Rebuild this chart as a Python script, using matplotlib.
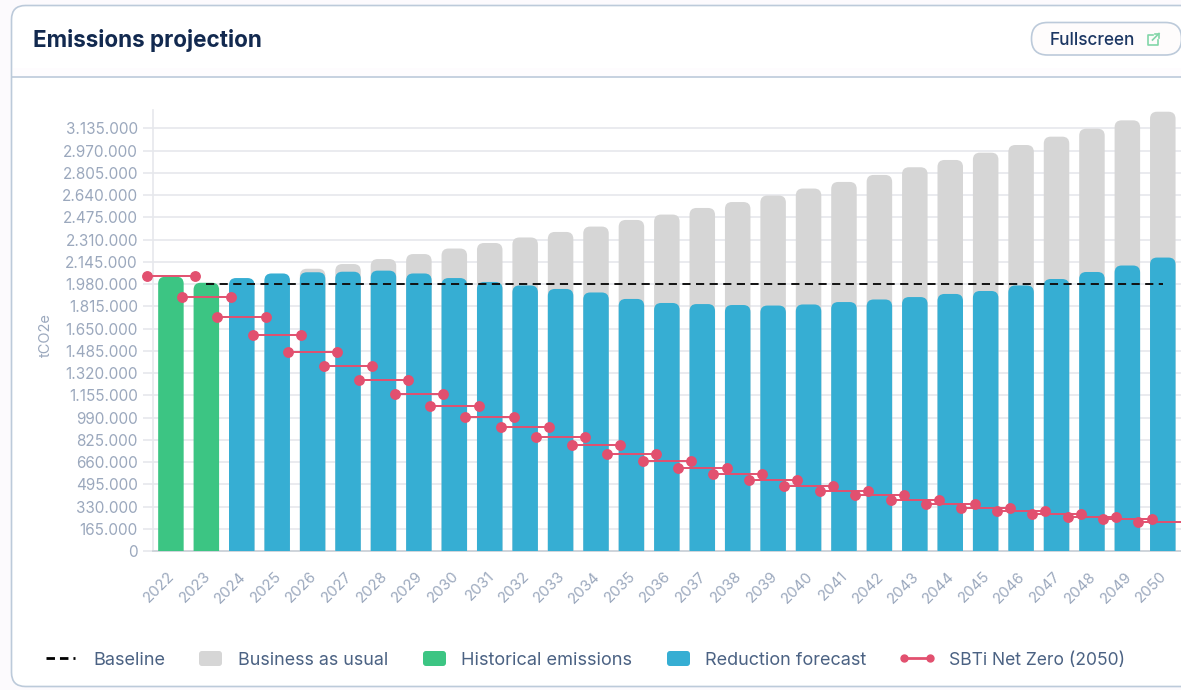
import matplotlib
matplotlib.use('Agg')
import matplotlib.pyplot as plt
from matplotlib.patches import FancyBboxPatch, PathPatch
from matplotlib.path import Path
from matplotlib.transforms import Affine2D

plt.rcParams['font.family'] = ['Inter', 'DejaVu Sans']

years = list(range(2022, 2051))

historical = [2035000, 1990000]

forecast = [2025000, 2059000, 2068000, 2072000, 2080000, 2059000, 2025000,
            1996000, 1970000, 1944000, 1918000, 1870000, 1840000, 1832000,
            1825000, 1821000, 1829000, 1847000, 1866000, 1884000, 1907000,
            1929000, 1970000, 2018000, 2070000, 2118000, 2177000]

# 2024 and 2025 sit behind the blue bars, so those two are a guess
business_as_usual = [2010000, 2050000, 2094000, 2129000, 2166000, 2203000,
                     2244000, 2285000, 2326000, 2367000, 2407000, 2456000,
                     2496000, 2545000, 2589000, 2637000, 2689000, 2738000,
                     2790000, 2847000, 2901000, 2955000, 3012000, 3074000,
                     3133000, 3195000, 3259000]

sbti = [2038000, 1882000, 1736000, 1605000, 1480000, 1369000, 1265000,
        1168000, 1079000, 994000, 920000, 846000, 783000, 722000, 668000,
        616000, 569000, 525000, 484000, 447000, 415000, 381000, 351000,
        321000, 297000, 275000, 254000, 235000, 217000]

baseline = [1980000] * 28

y_ticks = [165000 * i for i in range(20)]
y_labels = ['0'] + [f'{t:,}'.replace(',', '.') for t in y_ticks[1:]]

W, H = 1181, 690
NAVY = '#12294f'
TICK = '#9ba8bd'
LEGEND_TEXT = '#4b6283'
BORDER = '#bccada'
GREEN = '#3cc583'
BLUE = '#36aed3'
GREY = '#d6d6d6'
RED = '#e2506f'


def rounded_bar(ax, x, height, color, width=0.72, r=7):
    # corner radius given in pixels, converted to data units on both axes
    rx = r / X_PX
    ry = r / Y_PX
    l, t, rgt = x - width / 2, height, x + width / 2
    verts = [(l, 0), (l, t - ry), (l, t), (l + rx, t), (rgt - rx, t),
             (rgt, t), (rgt, t - ry), (rgt, 0), (l, 0)]
    codes = [Path.MOVETO, Path.LINETO, Path.CURVE3, Path.CURVE3, Path.LINETO,
             Path.CURVE3, Path.CURVE3, Path.LINETO, Path.CLOSEPOLY]
    ax.add_patch(PathPatch(Path(verts, codes), facecolor=color, edgecolor='none', zorder=3))


fig = plt.figure(figsize=(W / 100, H / 100), dpi=100, facecolor='#fcfafd')

# page layer in pixel coordinates: card, header, legend
bg = fig.add_axes([0, 0, 1, 1], zorder=0)
bg.set_xlim(0, W)
bg.set_ylim(H, 0)
bg.axis('off')

bg.add_patch(FancyBboxPatch((11.5, 5.5), 1300, 681, boxstyle='round,pad=0,rounding_size=14',
                            facecolor='white', edgecolor=BORDER, lw=1.2))
bg.fill_between([12.5, W], 68, 76.5, color='#fefcfe', lw=0)
bg.plot([11.5, W], [77, 77], color=BORDER, lw=1.2)
bg.text(33, 41, 'Emissions projection', fontsize=16.2, fontweight='bold', color=NAVY, va='center')

bg.add_patch(FancyBboxPatch((1031.5, 22.5), 150, 32.5, boxstyle='round,pad=0,rounding_size=16',
                            facecolor='#fefcfc', edgecolor=BORDER, lw=1.2))
bg.text(1050, 40.5, 'Fullscreen', fontsize=12.4, fontweight='medium', color='#1c3763', va='center')
icon = '#82d6a8'
bg.plot([1153, 1148, 1148, 1158, 1158], [34.5, 34.5, 44.5, 44.5, 39.5], color=icon, lw=1.2)
bg.plot([1152.5, 1159], [40, 33.5], color=icon, lw=1.2)
bg.plot([1155, 1159, 1159], [33.5, 33.5, 37.5], color=icon, lw=1.2)

LEG_Y = 658
bg.plot([46, 75], [LEG_Y, LEG_Y], color='black', lw=2, dashes=(3.05, 1.8))
bg.plot([903.5, 930], [LEG_Y, LEG_Y], color=RED, lw=2, marker='o', ms=5)
for x0, color in [(199, GREY), (423, GREEN), (667, BLUE)]:
    bg.add_patch(FancyBboxPatch((x0, 651), 23, 15, boxstyle='round,pad=0,rounding_size=3',
                                facecolor=color, edgecolor='none'))
for x0, label, size in [(93, 'Baseline', 13), (238, 'Business as usual', 12.9),
                        (461, 'Historical emissions', 13.1), (705, 'Reduction forecast', 13),
                        (949, 'SBTi Net Zero (2050)', 12.6)]:
    bg.text(x0, LEG_Y + 2.5, label, fontsize=size, color=LEGEND_TEXT, va='center')

# chart layer
left, right, top, bottom = 153.2, 1180.5, 110, 551
ax = fig.add_axes([left / W, 1 - bottom / H, (right - left) / W, (bottom - top) / H], zorder=1)
ax.patch.set_alpha(0)
ax.set_xlim(-0.5, 28.5)
ax.set_ylim(0, 441 * 165000 / 22.24)
X_PX = (right - left) / 29
Y_PX = 22.24 / 165000

for i, v in enumerate(business_as_usual):
    rounded_bar(ax, i + 2, v, GREY)
for i, v in enumerate(historical):
    rounded_bar(ax, i, v, GREEN)
for i, v in enumerate(forecast):
    rounded_bar(ax, i + 2, v, BLUE)

ax.plot(range(1, 29), baseline, color='#111111', lw=1.4, dashes=(4.2, 2.8), zorder=4)

for i, v in enumerate(sbti):
    ax.plot([i - 0.686, i + 0.686], [v, v], color=RED, lw=1.4, marker='o', ms=6.8,
            clip_on=False, zorder=5)

ax.set_yticks(y_ticks)
ax.set_yticklabels(y_labels)
ax.set_xticks(range(len(years)))
ax.set_xticklabels(years, rotation=45, ha='right', rotation_mode='anchor')
ax.tick_params(axis='y', length=7, width=1.2, color='#e6e8ec', labelsize=11, labelcolor=TICK, pad=4)
ax.tick_params(axis='x', length=0, labelsize=10.8, labelcolor=TICK, pad=13)
for lbl in ax.get_xticklabels():
    lbl.set_transform(lbl.get_transform() + Affine2D().translate(-3, 0))
ax.grid(axis='y', color='#e6e8ec', lw=1.2, zorder=0)
ax.set_axisbelow(True)
for s in ['top', 'right']:
    ax.spines[s].set_visible(False)
ax.spines['left'].set_color('#e6e8ec')
ax.spines['left'].set_linewidth(1.2)
ax.spines['bottom'].set_color('#cfd4da')
ax.spines['bottom'].set_linewidth(1.4)

bg.text(46, 335, 'tCO2e', fontsize=10.5, color=TICK, rotation=90, ha='center', va='center')

fig.savefig('out.png', dpi=100)
